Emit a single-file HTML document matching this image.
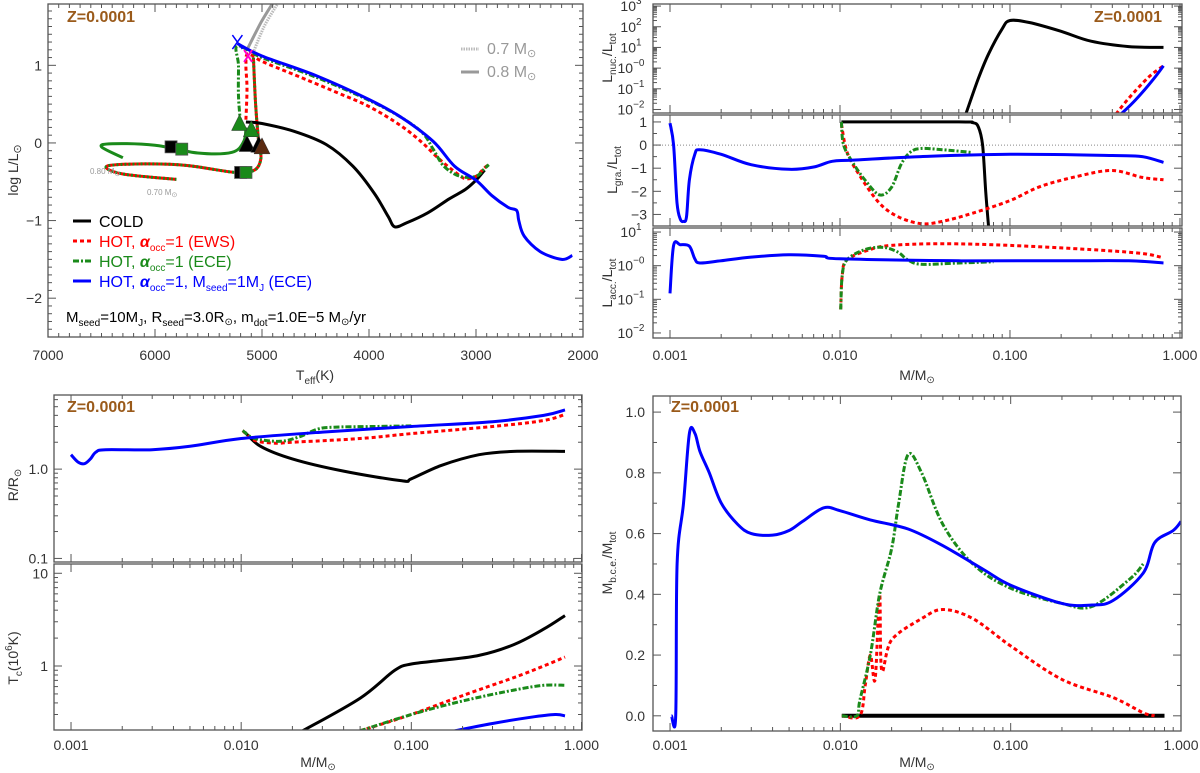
<!DOCTYPE html>
<html><head><meta charset="utf-8"><style>
html,body{margin:0;padding:0;background:#fff}
svg{display:block;font-family:"Liberation Sans",sans-serif}
</style></head><body>
<svg id="fig" width="1200" height="773" viewBox="0 0 1200 773" xmlns="http://www.w3.org/2000/svg">
<defs id="defs"></defs>
</svg>
<script>
// ---------- DATA ----------
const hrCold = [[5150,0.27],[5000,0.25],[4700,0.15],[4400,-0.02],[4150,-0.3],[3950,-0.65],[3820,-0.95],[3760,-1.08],[3650,-1.03],[3450,-0.9],[3250,-0.72],[3100,-0.6],[3000,-0.48],[2920,-0.35]];
const hrRed = [[5150,0.3],[5140,0.7],[5150,1.0],[5130,1.15],[5000,1.05],[4700,0.88],[4300,0.65],[4000,0.47],[3700,0.22],[3500,0.0],[3350,-0.2],[3200,-0.37],[3100,-0.46],[3000,-0.43],[2920,-0.32],[2880,-0.28]];
const hrGreen = [[5200,0.25],[5220,0.6],[5220,1.0],[5230,1.25],[5000,1.1],[4500,0.85],[4000,0.55],[3700,0.33],[3500,0.13],[3400,-0.08],[3300,-0.3],[3150,-0.43],[3000,-0.43],[2920,-0.33],[2880,-0.28]];
const hrBlue = [[5230,1.28],[5000,1.12],[4500,0.87],[4000,0.56],[3700,0.33],[3400,0.02],[3200,-0.3],[3000,-0.48],[2850,-0.68],[2700,-0.83],[2620,-0.87],[2600,-1.0],[2550,-1.2],[2400,-1.4],[2200,-1.5],[2100,-1.45]];
const hrTrack08 = [[5150,0.2],[5170,0.02],[5280,-0.12],[5600,-0.13],[6000,-0.03],[6400,-0.01],[6500,-0.05],[6300,-0.19]];
const hrTrack07 = [[5080,1.1],[5060,0.5],[5030,0.0],[5010,-0.2],[5070,-0.35],[5250,-0.38],[5700,-0.29],[6100,-0.27],[6450,-0.3],[6300,-0.4],[5800,-0.47]];
const hrGrey07 = [[5100,1.1],[4980,1.5],[4850,1.8]];
const hrGrey08 = [[5140,1.2],[5010,1.55],[4900,1.8]];
const nucCold = [[0.055,0.006],[0.065,0.3],[0.075,5],[0.09,80],[0.1,200],[0.13,160],[0.2,60],[0.3,20],[0.5,11],[0.8,10]];
const nucRed = [[0.42,0.006],[0.5,0.035],[0.65,0.35],[0.8,1.3]];
const nucBlue = [[0.45,0.006],[0.55,0.03],[0.7,0.3],[0.8,1.3]];
const graCold = [[0.0102,1],[0.05,1],[0.06,0.97],[0.065,0.8],[0.069,0],[0.072,-2],[0.075,-3.6]];
const graGreen = [[0.0102,1],[0.0105,0],[0.012,-0.8],[0.014,-1.5],[0.017,-2.15],[0.02,-1.85],[0.023,-0.8],[0.026,-0.3],[0.03,-0.15],[0.04,-0.2],[0.06,-0.32]];
const graRed = [[0.0102,0.9],[0.011,-0.3],[0.013,-1.3],[0.017,-2.5],[0.022,-3.1],[0.03,-3.4],[0.04,-3.3],[0.06,-2.95],[0.1,-2.4],[0.15,-1.8],[0.25,-1.35],[0.4,-1.1],[0.6,-1.4],[0.8,-1.5]];
const graBlue = [[0.001,0.95],[0.00105,0],[0.0011,-2.5],[0.00115,-3.2],[0.0012,-3.3],[0.00125,-3.1],[0.0013,-1.5],[0.0014,-0.4],[0.0015,-0.2],[0.002,-0.4],[0.003,-0.85],[0.005,-1.05],[0.007,-0.95],[0.009,-0.7],[0.012,-0.65],[0.03,-0.5],[0.1,-0.4],[0.4,-0.45],[0.6,-0.5],[0.8,-0.75]];
const accBlue = [[0.001,0.15],[0.00105,4],[0.00115,4.2],[0.0013,3.8],[0.0014,1.6],[0.0015,1.2],[0.002,1.4],[0.003,1.8],[0.005,2.1],[0.008,1.9],[0.01,1.6],[0.05,1.4],[0.2,1.4],[0.5,1.4],[0.8,1.2]];
const accGreen = [[0.0101,0.05],[0.0103,0.5],[0.011,1.5],[0.014,3],[0.018,3.5],[0.022,2.5],[0.025,1.5],[0.03,1.1],[0.05,1.2],[0.08,1.3]];
const accRed = [[0.0101,0.05],[0.0103,0.5],[0.011,1.5],[0.015,3],[0.02,4],[0.04,4.5],[0.1,4.0],[0.3,3.0],[0.6,2.3],[0.8,1.7]];
const radBlue = [[0.001,1.45],[0.0011,1.2],[0.0012,1.15],[0.0013,1.3],[0.0014,1.55],[0.0016,1.65],[0.003,1.65],[0.005,1.8],[0.01,2.2],[0.03,2.6],[0.1,3.0],[0.3,3.4],[0.6,4.0],[0.8,4.6]];
const radCold = [[0.0105,2.6],[0.013,1.8],[0.02,1.3],[0.04,0.95],[0.088,0.74],[0.1,0.78],[0.15,1.1],[0.25,1.45],[0.4,1.58],[0.8,1.58]];
const radRed = [[0.0102,2.7],[0.012,2.1],[0.016,1.95],[0.02,2.0],[0.05,2.2],[0.1,2.5],[0.3,3.0],[0.6,3.5],[0.8,4.1]];
const radGreen = [[0.0102,2.7],[0.012,2.2],[0.017,2.05],[0.022,2.3],[0.028,2.8],[0.035,2.95],[0.06,3.0],[0.1,3.05]];
const tcCold = [[0.023,0.2],[0.05,0.45],[0.08,0.9],[0.1,1.05],[0.15,1.15],[0.25,1.3],[0.4,1.7],[0.6,2.5],[0.8,3.5]];
const tcRed = [[0.05,0.2],[0.1,0.3],[0.2,0.48],[0.4,0.75],[0.6,1.0],[0.8,1.25]];
const tcGreen = [[0.05,0.2],[0.1,0.3],[0.2,0.42],[0.4,0.55],[0.6,0.62],[0.8,0.62]];
const tcBlue = [[0.18,0.2],[0.3,0.24],[0.5,0.28],[0.7,0.3],[0.8,0.29]];
const bceBlue = [[0.00102,0],[0.00108,0],[0.0011,0.5],[0.0012,0.7],[0.0013,0.93],[0.0014,0.93],[0.0015,0.87],[0.0017,0.8],[0.002,0.7],[0.0025,0.63],[0.003,0.6],[0.004,0.595],[0.005,0.61],[0.006,0.64],[0.008,0.685],[0.01,0.675],[0.015,0.645],[0.025,0.615],[0.04,0.56],[0.07,0.48],[0.1,0.43],[0.2,0.37],[0.3,0.365],[0.4,0.38],[0.6,0.47],[0.7,0.57],[0.9,0.61],[1.0,0.64]];
const bceGreen = [[0.0102,0],[0.0125,0],[0.013,0.05],[0.015,0.2],[0.017,0.4],[0.02,0.55],[0.022,0.7],[0.025,0.86],[0.03,0.8],[0.04,0.63],[0.06,0.5],[0.1,0.42],[0.2,0.37],[0.3,0.36],[0.5,0.45],[0.6,0.5]];
const bceRed = [[0.0102,0],[0.013,0],[0.014,0.1],[0.015,0.2],[0.016,0.12],[0.017,0.4],[0.0175,0.15],[0.02,0.25],[0.03,0.32],[0.04,0.35],[0.06,0.32],[0.1,0.23],[0.2,0.12],[0.4,0.06],[0.6,0.01],[0.7,0]];
const bceCold = [[0.0102,0],[0.8,0]];
const massTicks = ["0.001","0.010","0.100","1.000"];

// ---------- HELPERS ----------
const NS="http://www.w3.org/2000/svg";
const svg=document.getElementById('fig');
const defs=document.getElementById('defs');
function el(tag,attrs,parent){const e=document.createElementNS(NS,tag);for(const k in attrs)e.setAttribute(k,attrs[k]);(parent||svg).appendChild(e);return e;}
const BLACK='#000',RED='#ff0000',GREEN='#1a8a1a',BLUE='#0000ff',AX='#555';
const STY={cold:{stroke:BLACK,dash:''},red:{stroke:RED,dash:'4,3'},green:{stroke:GREEN,dash:'6,2,2,2'},blue:{stroke:BLUE,dash:''}};
let clipN=0;
function panel(name,x0,x1,y0,y1,xs,ys){
  const p={name,x0,x1,y0,y1,xs,ys};
  p.X=v=>xs.log? x0+(Math.log10(v)-xs.min)/(xs.max-xs.min)*(x1-x0) : x0+(v-xs.min)/(xs.max-xs.min)*(x1-x0);
  p.Y=v=>ys.log? y1-(Math.log10(v)-ys.min)/(ys.max-ys.min)*(y1-y0) : y1-(v-ys.min)/(ys.max-ys.min)*(y1-y0);
  const id='c'+(clipN++);
  const cp=el('clipPath',{id},defs);el('rect',{x:x0,y:y0,width:x1-x0,height:y1-y0},cp);
  p.g=el('g',{'clip-path':'url(#'+id+')'});
  
  
  return p;
}
function frame(p){
  const r=el('rect',{x:p.x0,y:p.y0,width:p.x1-p.x0,height:p.y1-p.y0,fill:'none',stroke:AX,'stroke-width':1.3});
  
  
}
function tick(p,axis,v,len){
  if(axis==='x'){const x=p.X(v);if(x<p.x0-0.5||x>p.x1+0.5)return;
    el('line',{x1:x,x2:x,y1:p.y1,y2:p.y1-len,stroke:AX,'stroke-width':1});
    el('line',{x1:x,x2:x,y1:p.y0,y2:p.y0+len,stroke:AX,'stroke-width':1});}
  else{const y=p.Y(v);if(y<p.y0-0.5||y>p.y1+0.5)return;
    el('line',{x1:p.x0,x2:p.x0+len,y1:y,y2:y,stroke:AX,'stroke-width':1});
    el('line',{x1:p.x1,x2:p.x1-len,y1:y,y2:y,stroke:AX,'stroke-width':1});}
}
function logTicks(p,axis,lo,hi){for(let d=lo;d<=hi;d++){tick(p,axis,Math.pow(10,d),8);for(let m=2;m<=9;m++)tick(p,axis,m*Math.pow(10,d),4);}}
function linTicks(p,axis,lo,hi,maj,min){for(let v=lo;v<=hi+1e-9;v+=min){const isM=Math.abs(v/maj-Math.round(v/maj))<1e-6;tick(p,axis,+v.toFixed(6),isM?8:4);}}
function txt(s,x,y,opt,name){const t=el('text',Object.assign({x,y,'font-size':14,fill:'#333'},opt||{}));t.innerHTML=s;
  
  return t;}
function smoothPath(pts){
  if(pts.length<3)return pts.map((q,i)=>(i?'L':'M')+q[0].toFixed(1)+','+q[1].toFixed(1)).join('');
  let d='M'+pts[0][0].toFixed(1)+','+pts[0][1].toFixed(1);
  for(let i=0;i<pts.length-1;i++){
    const p0=pts[i-1]||pts[i],p1=pts[i],p2=pts[i+1],p3=pts[i+2]||p2;
    const c1=[p1[0]+(p2[0]-p0[0])/6,p1[1]+(p2[1]-p0[1])/6];
    const c2=[p2[0]-(p3[0]-p1[0])/6,p2[1]-(p3[1]-p1[1])/6];
    d+='C'+c1[0].toFixed(1)+','+c1[1].toFixed(1)+' '+c2[0].toFixed(1)+','+c2[1].toFixed(1)+' '+p2[0].toFixed(1)+','+p2[1].toFixed(1);
  }
  return d;
}
function line(p,data,sty,name,w){
  const pts=data.map(q=>[p.X(q[0]),p.Y(q[1])]);
  const e=el('path',{d:smoothPath(pts),fill:'none',stroke:sty.stroke,'stroke-width':w||3,'stroke-dasharray':sty.dash,'stroke-linejoin':'round'},p.g);
  
  
  return e;
}
function massXLabels(p,y){massTicks.forEach((s,i)=>txt(s,p.X(parseFloat(s)),y,{'text-anchor':'middle'},'x-tick-label-'+s));}
function zlabel(x,y,n){txt('Z=0.0001',x,y,{'font-size':16,'font-weight':'bold',fill:'#9a5a1a'},n);}

// ---------- PANEL 1 : HR ----------
const hr=panel('hr-diagram',48,583,4,337,{min:7000,max:2000},{min:-2.5,max:1.79});
line(hr,hrGrey08,{stroke:'#999',dash:''},'track-0.8msun-grey',3);
line(hr,hrGrey07,{stroke:'#bbb',dash:'1.5,1'},'track-0.7msun-grey',3);
line(hr,hrTrack08,STY.green,'track-0.8msun',3).setAttribute('stroke-dasharray','');
line(hr,hrTrack07,{stroke:RED,dash:''},'track-0.7msun-red',3);
line(hr,hrTrack07,{stroke:GREEN,dash:'2,2'},'track-0.7msun-green',3);
line(hr,hrCold,STY.cold,'hr-cold-line');
line(hr,hrRed,STY.red,'hr-hot-ews-line');
line(hr,hrGreen,STY.green,'hr-hot-ece-line');
line(hr,hrBlue,STY.blue,'hr-hot-1mj-line');
function tri(T,L,c,n){const x=hr.X(T),y=hr.Y(L);const e=el('polygon',{points:`${x-8},${y+7} ${x+8},${y+7} ${x},${y-9}`,fill:c,stroke:'#333','stroke-width':0.5});
  }
function sq(T,L,c,n){const x=hr.X(T),y=hr.Y(L);const e=el('rect',{x:x-6,y:y-6,width:12,height:12,fill:c,stroke:'#555','stroke-width':0.8});
  }
tri(5140,-0.02,'#000','marker-tri-1');tri(5030,-0.03,'#000','marker-tri-2');tri(5000,-0.05,'#5a2a10','marker-tri-3');
tri(5210,0.25,GREEN,'marker-tri-4');tri(5100,0.17,GREEN,'marker-tri-5');
sq(5850,-0.05,'#000','marker-sq-1');sq(5750,-0.08,GREEN,'marker-sq-2');sq(5200,-0.38,'#000','marker-sq-3');sq(5150,-0.38,GREEN,'marker-sq-4');
(function(){const x=hr.X(5230),y=hr.Y(1.3);const e=el('path',{d:`M${x-5},${y-7}L${x+5},${y+7}M${x+5},${y-7}L${x-5},${y+7}`,stroke:BLUE,'stroke-width':1.5});
 const x2=hr.X(5130),y2=hr.Y(1.12);const f=el('path',{d:`M${x2-4},${y2-6}L${x2+4},${y2+6}M${x2+4},${y2-6}L${x2-4},${y2+6}`,stroke:'#ff00cc','stroke-width':2});})();
frame(hr);
linTicks(hr,'x',2000,7000,1000,100);
for(let v=-2.5;v<=1.8;v+=0.1){const r=Math.round(v*10)/10;tick(hr,'y',r,Math.abs(r-Math.round(r))<1e-6?8:4);}
[7000,6000,5000,4000,3000,2000].forEach(v=>txt(String(v),hr.X(v),360,{'text-anchor':'middle'},'hr-x-tick-'+v));
[1,0,-1,-2].forEach(v=>txt(v<0?'−'+(-v):String(v),hr.x0-6,hr.Y(v)+5,{'text-anchor':'end'},'hr-y-tick-'+v));
txt('T<tspan font-size="10" dy="4">eff</tspan><tspan dy="-4">(K)</tspan>',315,380,{'text-anchor':'middle'},'hr-x-axis-title');
txt('log L/L<tspan font-size="11" dy="3">⊙</tspan>',18,170,{'text-anchor':'middle',transform:'rotate(-90 18 170)'},'hr-y-axis-title');
zlabel(67,22,'hr-z-label');
el('line',{x1:461,x2:479,y1:49,y2:49,stroke:'#bbb','stroke-width':3,'stroke-dasharray':'1.5,1'});
el('line',{x1:461,x2:479,y1:72,y2:72,stroke:'#999','stroke-width':3});
txt('0.7 M<tspan font-size="11" dy="3">⊙</tspan>',487,54,{'font-size':16,fill:'#999'},'legend-0.7msun');
txt('0.8 M<tspan font-size="11" dy="3">⊙</tspan>',487,77,{'font-size':16,fill:'#999'},'legend-0.8msun');
txt('0.80 M<tspan font-size="7" dy="2">⊙</tspan>',90,174,{'font-size':8,fill:'#999'},'label-0.80msun');
txt('0.70 M<tspan font-size="7" dy="2">⊙</tspan>',147,195,{'font-size':8,fill:'#999'},'label-0.70msun');
const leg=[['cold','COLD',BLACK],['red','HOT, <tspan font-style="italic" font-weight="bold">α</tspan><tspan font-size="10" dy="4">occ</tspan><tspan dy="-4">=1  (EWS)</tspan>',RED],
 ['green','HOT, <tspan font-style="italic" font-weight="bold">α</tspan><tspan font-size="10" dy="4">occ</tspan><tspan dy="-4">=1  (ECE)</tspan>',GREEN],
 ['blue','HOT, <tspan font-style="italic" font-weight="bold">α</tspan><tspan font-size="10" dy="4">occ</tspan><tspan dy="-4">=1,  M</tspan><tspan font-size="10" dy="4">seed</tspan><tspan dy="-4">=1M</tspan><tspan font-size="10" dy="4">J</tspan><tspan dy="-4">  (ECE)</tspan>',BLUE]];
leg.forEach((l,i)=>{const y=221+i*20;const s=STY[l[0]];
  const ln=el('line',{x1:73,x2:91,y1:y,y2:y,stroke:s.stroke,'stroke-width':3,'stroke-dasharray':s.dash});
  
  txt(l[1],99,y+6,{'font-size':16,fill:l[2]},'legend-entry-'+l[0]);});
txt('M<tspan font-size="10" dy="4">seed</tspan><tspan dy="-4">=10M</tspan><tspan font-size="10" dy="4">J</tspan><tspan dy="-4">, R</tspan><tspan font-size="10" dy="4">seed</tspan><tspan dy="-4">=3.0R</tspan><tspan font-size="10" dy="3">⊙</tspan><tspan dy="-3">, m</tspan><tspan font-size="10" dy="4">dot</tspan><tspan dy="-4">=1.0E−5 M</tspan><tspan font-size="10" dy="3">⊙</tspan><tspan dy="-3">/yr</tspan>',66,322,{'font-size':15,fill:'#000'},'seed-annotation');

// ---------- TOP RIGHT ----------
const mx={log:true,min:-3.1,max:0.012};
const pn=panel('lnuc-panel',653,1182,4,113,mx,{log:true,min:-2.17,max:3.1});
const pg=panel('lgra-panel',653,1182,115,226,mx,{min:-3.5,max:1.3});
const pa=panel('lacc-panel',653,1182,228,338,mx,{log:true,min:-2.15,max:1.12});
line(pn,nucCold,STY.cold,'lnuc-cold');line(pn,nucRed,STY.red,'lnuc-ews');line(pn,nucBlue,STY.blue,'lnuc-1mj');
el('line',{x1:pg.x0,x2:pg.x1,y1:pg.Y(0),y2:pg.Y(0),stroke:'#888','stroke-width':1,'stroke-dasharray':'1,2'},pg.g);
line(pg,graCold,STY.cold,'lgra-cold');line(pg,graRed,STY.red,'lgra-ews');line(pg,graGreen,STY.green,'lgra-ece');line(pg,graBlue,STY.blue,'lgra-1mj');
line(pa,accRed,STY.red,'lacc-ews');line(pa,accGreen,STY.green,'lacc-ece');line(pa,accBlue,STY.blue,'lacc-1mj');
[pn,pg,pa].forEach(p=>{frame(p);logTicks(p,'x',-3,0);});
logTicks(pn,'y',-2,3);logTicks(pa,'y',-2,1);linTicks(pg,'y',-3.5,1.5,1,0.5);
function sup(b,e){return b+'<tspan font-size="10" dy="-7">'+e+'</tspan>';}
[3,2,1,0,-1,-2].forEach(d=>txt(sup('10',d<0?'−'+(-d):d===0?'−0':d),pn.x0-22,pn.Y(Math.pow(10,d))+5,{'text-anchor':'middle'},'lnuc-y-tick-'+d));
[1,0,-1,-2,-3].forEach(v=>txt(v<0?'−'+(-v):String(v),pg.x0-6,pg.Y(v)+5,{'text-anchor':'end'},'lgra-y-tick-'+v));
[1,0,-1,-2].forEach(d=>txt(sup('10',d<0?'−'+(-d):d===0?'−0':d),pa.x0-22,pa.Y(Math.pow(10,d))+5,{'text-anchor':'middle'},'lacc-y-tick-'+d));
massXLabels(pa,360);
txt('M/M<tspan font-size="10" dy="3">⊙</tspan>',917,380,{'text-anchor':'middle'},'tr-x-axis-title');
function ylab(html,x,y,n){txt(html,x,y,{'text-anchor':'middle',transform:`rotate(-90 ${x} ${y})`},n);}
ylab('L<tspan font-size="10" dy="4">nuc.</tspan><tspan dy="-4">/L</tspan><tspan font-size="10" dy="4">tot</tspan>',612,58,'lnuc-y-axis-title');
ylab('L<tspan font-size="10" dy="4">gra.</tspan><tspan dy="-4">/L</tspan><tspan font-size="10" dy="4">tot</tspan>',617,170,'lgra-y-axis-title');
ylab('L<tspan font-size="10" dy="4">acc.</tspan><tspan dy="-4">/L</tspan><tspan font-size="10" dy="4">tot</tspan>',612,283,'lacc-y-axis-title');
zlabel(1094,22,'tr-z-label');

// ---------- BOTTOM LEFT ----------
const bx={log:true,min:-3.1,max:0.003};
const pr=panel('radius-panel',54,582,395,562,bx,{log:true,min:-1.04,max:0.83});
const pt=panel('tc-panel',54,582,564,730,bx,{log:true,min:-0.69,max:1.1});
line(pr,radCold,STY.cold,'radius-cold');line(pr,radRed,STY.red,'radius-ews');line(pr,radGreen,STY.green,'radius-ece');line(pr,radBlue,STY.blue,'radius-1mj');
line(pt,tcCold,STY.cold,'tc-cold');line(pt,tcRed,STY.red,'tc-ews');line(pt,tcGreen,STY.green,'tc-ece');line(pt,tcBlue,STY.blue,'tc-1mj');
[pr,pt].forEach(p=>{frame(p);logTicks(p,'x',-3,0);});
logTicks(pr,'y',-1,0);logTicks(pt,'y',-1,1);
[['1.0',1],['0.1',0.1]].forEach(a=>txt(a[0],pr.x0-6,pr.Y(a[1])+5,{'text-anchor':'end'},'radius-y-tick-'+a[0]));
[['10',10],['1',1]].forEach(a=>txt(a[0],pt.x0-6,pt.Y(a[1])+5,{'text-anchor':'end'},'tc-y-tick-'+a[0]));
massXLabels(pt,750);
txt('M/M<tspan font-size="10" dy="3">⊙</tspan>',318,767,{'text-anchor':'middle'},'bl-x-axis-title');
ylab('R/R<tspan font-size="10" dy="3">⊙</tspan>',18,485,'radius-y-axis-title');
ylab('T<tspan font-size="10" dy="4">c</tspan><tspan dy="-4">(10</tspan><tspan font-size="10" dy="-6">6</tspan><tspan dy="6">K)</tspan>',18,658,'tc-y-axis-title');
zlabel(67,412,'bl-z-label');

// ---------- BOTTOM RIGHT ----------
const pb=panel('mbce-panel',653,1181,396,731,{log:true,min:-3.1,max:0},{min:-0.05,max:1.053});
line(pb,bceCold,STY.cold,'mbce-cold',4);line(pb,bceRed,STY.red,'mbce-ews');line(pb,bceGreen,STY.green,'mbce-ece');line(pb,bceBlue,STY.blue,'mbce-1mj');
frame(pb);logTicks(pb,'x',-3,0);linTicks(pb,'y',0,1,0.2,0.1);
['0.0','0.2','0.4','0.6','0.8','1.0'].forEach(s=>txt(s,pb.x0-8,pb.Y(parseFloat(s))+5,{'text-anchor':'end'},'mbce-y-tick-'+s));
massXLabels(pb,750);
txt('M/M<tspan font-size="10" dy="3">⊙</tspan>',917,767,{'text-anchor':'middle'},'br-x-axis-title');
ylab('M<tspan font-size="10" dy="4">b.c.e.</tspan><tspan dy="-4">/M</tspan><tspan font-size="10" dy="4">tot</tspan>',612,563,'mbce-y-axis-title');
zlabel(671,412,'br-z-label');
</script>
</body></html>
